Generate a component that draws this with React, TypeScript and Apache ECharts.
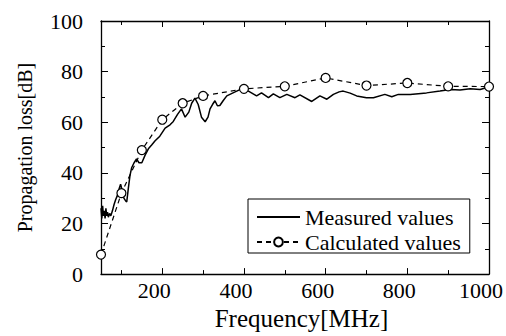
import React, { useEffect, useRef } from "react";
import * as echarts from "echarts";

const FONT = '"Liberation Serif", "Times New Roman", serif';

// Measured values: [frequency MHz, loss dB]
const measured: [number, number][] = [
  [50, 26], [52, 22], [54, 27], [56, 23], [58, 25], [60, 22], [62, 26], [64, 23],
  [66, 24.5], [68, 22.5], [71, 24], [74, 23], [78, 25], [82, 27.5], [86, 29.5],
  [90, 31], [95, 34], [98, 35.5], [102, 33], [106, 30], [110, 29], [113, 28.5],
  [117, 34], [121, 39], [125, 42], [131, 44], [137, 45.5], [143, 44], [150, 44],
  [158, 47], [166, 49.5], [174, 51], [182, 52.6], [194, 54.5], [207, 57.7],
  [219, 59], [227, 60.3], [237, 63], [247, 65.3], [256, 62], [265, 64],
  [272, 67.5], [280, 69.5], [288, 67], [296, 62], [305, 60.2], [312, 62],
  [317, 65.3], [323, 67], [329, 68.5], [335, 66.5], [341, 66.6], [349, 68.5],
  [358, 70.4], [372, 71.5], [390, 72.9], [400, 72.8], [411, 72.3], [431, 70.4],
  [443, 71.6], [460, 69.7], [472, 71.2], [488, 69.7], [505, 71], [525, 69.7],
  [537, 70.8], [566, 68.2], [586, 70.4], [603, 69.1], [619, 71], [633, 72],
  [643, 72.3], [660, 71.5], [676, 70.4], [700, 69.7], [717, 69.7], [745, 71],
  [762, 70.1], [778, 71], [807, 71], [847, 71.6], [880, 72.3], [905, 72.9],
  [929, 72.7], [954, 73.2], [978, 72.9], [1000, 73.9],
];

// Calculated values
const calculatedFreq = [50, 100, 150, 200, 250, 300, 400, 500, 600, 700, 800, 900, 1000];
const calculatedLoss = [7.7, 32, 49, 61, 67.5, 70.4, 73.2, 74.2, 77.5, 74.5, 75.5, 74.2, 74.1];

const xLabelValues = [200, 400, 600, 800, 1000];
const xMajorTicks = [200, 400, 600, 800, 1000];
const xMinorTicks = [100, 300, 500, 700, 900];

const seriesNames = ["Measured values", "Calculated values"];

export default function App() {
  const ref = useRef<HTMLDivElement>(null);
  useEffect(() => {
    if (!ref.current) return;
    const chart = echarts.init(ref.current, undefined, { renderer: "svg" });
    const axisLine = { show: true, lineStyle: { color: "#000", width: 1.3 } };
    const baseX = {
      type: "value" as const,
      min: 50,
      max: 1000,
      splitLine: { show: false },
    };
    chart.setOption({
      animation: false,
      backgroundColor: "#fff",
      grid: { left: 101, top: 21, right: 17, bottom: 52, containLabel: false },
      xAxis: [
        {
          ...baseX,
          position: "bottom",
          name: "Frequency[MHz]",
          nameLocation: "middle",
          nameGap: 28,
          nameTextStyle: { fontFamily: FONT, fontSize: 25, color: "#000", padding: [0, 0, 0, 13] },
          axisLine,
          axisTick: { show: true, inside: true, length: 6, customValues: xMajorTicks, lineStyle: { color: "#000" } },
          axisLabel: {
            show: true,
            customValues: xLabelValues,
            margin: 5,
            fontFamily: FONT,
            fontSize: 22,
            color: "#000",
            padding: [0, 16, 0, 0],
            formatter: (v: number) => String(v),
          },
        },
        {
          ...baseX,
          position: "bottom",
          axisLine: { show: false },
          axisTick: { show: true, inside: true, length: 4, customValues: xMinorTicks, lineStyle: { color: "#000" } },
          axisLabel: { show: false },
        },
        {
          ...baseX,
          position: "top",
          axisLine,
          axisTick: { show: true, inside: true, length: 6, customValues: xMajorTicks, lineStyle: { color: "#000" } },
          axisLabel: { show: false },
        },
        {
          ...baseX,
          position: "top",
          axisLine: { show: false },
          axisTick: { show: true, inside: true, length: 4, customValues: xMinorTicks, lineStyle: { color: "#000" } },
          axisLabel: { show: false },
        },
      ],
      yAxis: [
        {
          type: "value",
          min: 0,
          max: 100,
          interval: 20,
          position: "left",
          name: "Propagation loss[dB]",
          nameLocation: "middle",
          nameGap: 66,
          nameTextStyle: { fontFamily: FONT, fontSize: 20, color: "#000" },
          axisLine,
          axisTick: { show: true, inside: true, length: 7, lineStyle: { color: "#000" } },
          minorTick: { show: true, splitNumber: 2, length: 4, lineStyle: { color: "#000" } },
          axisLabel: { margin: 18, fontFamily: FONT, fontSize: 22, color: "#000" },
          splitLine: { show: false },
        },
        {
          type: "value",
          min: 0,
          max: 100,
          interval: 20,
          position: "right",
          axisLine,
          axisTick: { show: true, inside: true, length: 7, lineStyle: { color: "#000" } },
          minorTick: { show: true, splitNumber: 2, length: 4, lineStyle: { color: "#000" } },
          axisLabel: { show: false },
          splitLine: { show: false },
        },
      ],
      legend: {
        orient: "vertical",
        left: 248,
        top: 199,
        borderColor: "#000",
        borderWidth: 1,
        borderRadius: 0,
        backgroundColor: "#fff",
        padding: [7, 9, 0, 8],
        itemWidth: 43,
        itemHeight: 11,
        itemGap: 3,
        textStyle: { fontFamily: FONT, fontSize: 22, lineHeight: 22, color: "#000" },
        data: [
          { name: seriesNames[0], itemStyle: { opacity: 0 } },
          { name: seriesNames[1] },
        ],
      },
      series: [
        {
          name: seriesNames[0],
          type: "line",
          data: measured,
          symbol: "none",
          showSymbol: false,
          smooth: false,
          lineStyle: { color: "#000", width: 1.5 },
          itemStyle: { color: "#000" },
          z: 3,
        },
        {
          name: seriesNames[1],
          type: "line",
          data: calculatedFreq.map((f, i) => [f, calculatedLoss[i]]),
          symbol: "circle",
          symbolSize: 9,
          showSymbol: true,
          lineStyle: { color: "#000", width: 1.2, type: [5, 4] },
          itemStyle: { color: "#fff", borderColor: "#000", borderWidth: 1.2 },
          z: 4,
        },
      ],
    });
    return () => chart.dispose();
  }, []);
  return <div ref={ref} style={{ width: 506, height: 336, position: "absolute", left: 0, top: 0 }} />;
}
